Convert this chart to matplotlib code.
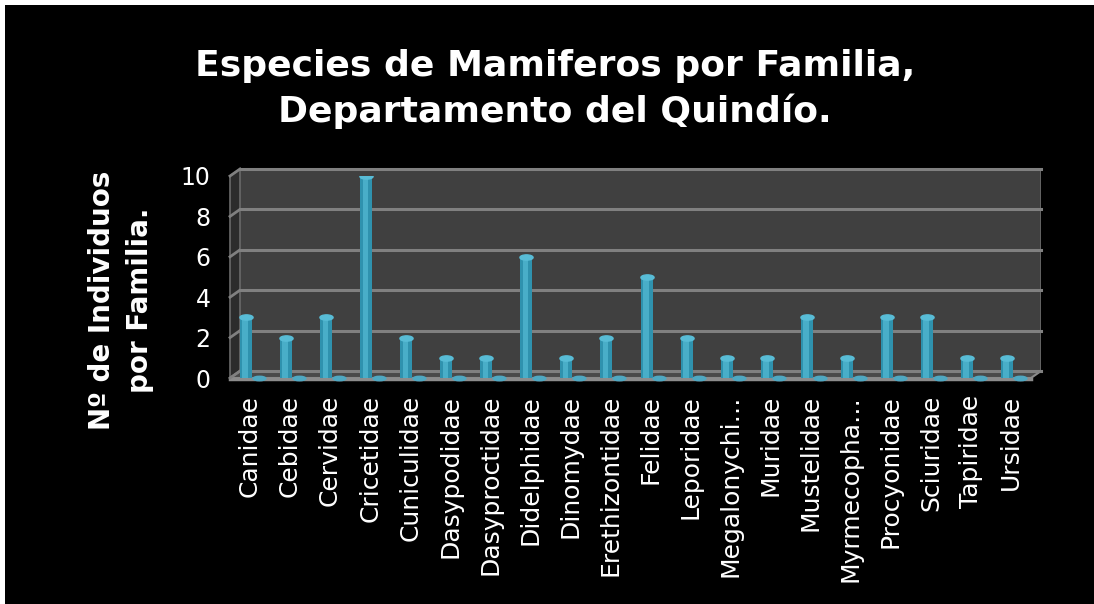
import numpy as np
import matplotlib
matplotlib.use("Agg")
from matplotlib import pyplot as plt
from matplotlib.patches import Rectangle, Polygon
from matplotlib.lines import Line2D
from matplotlib.path import Path
from matplotlib.transforms import Affine2D

familias = ["Canidae", "Cebidae", "Cervidae", "Cricetidae", "Cuniculidae",
            "Dasypodidae", "Dasyproctidae", "Didelphidae", "Dinomydae",
            "Erethizontidae", "Felidae", "Leporidae", "Megalonychi\u2026",
            "Muridae", "Mustelidae", "Myrmecopha\u2026", "Procyonidae",
            "Sciuridae", "Tapiridae", "Ursidae"]
individuos = [3, 2, 3, 10, 2, 1, 1, 6, 1, 2, 5, 2, 1, 1, 3, 1, 3, 3, 1, 1]
serie2 = [0, 0, 0, 0, 0, 0, 0, 0, 0, 0, 0, 0, 0, 0, 0, 0, 0, 0, 0, 0]
yticks = [0, 2, 4, 6, 8, 10]

W, H = 1094, 604


def fx(px):
    return px / W


def fy(py):
    return 1 - py / H


def main():
    fig = plt.figure(figsize=(W / 100, H / 100), dpi=100, facecolor="white")
    # fondo negro (borde blanco arriba / izquierda)
    fig.patches.append(Rectangle((fx(5), 0), 1, fy(5), transform=fig.transFigure,
                                 facecolor="black", edgecolor="none", zorder=-10))

    # pared de fondo (desplazada para efecto 3D)
    dx, dy = 10, 7
    left, right, bot, top = 230, 1031, 378, 176
    ax_back = fig.add_axes([fx(left + dx), fy(bot - dy), fx(right - left), fy(top) - fy(bot)])
    ax_back.set_xlim(-0.5, len(familias) - 0.5)
    ax_back.set_ylim(0, 10)
    ax_back.axis("off")
    ax_back.add_patch(Rectangle((0, 0), 1, 1, transform=ax_back.transAxes,
                                facecolor="#404040", edgecolor="#6a6a6a", lw=1.2, zorder=0))
    for v in yticks:
        ax_back.axhline(v, color="#808080", lw=2.2, clip_on=False, zorder=1)

    ax = fig.add_axes([fx(left), fy(bot), fx(right - left), fy(top) - fy(bot)])
    ax.set_facecolor("none")
    ax.set_xlim(-0.5, len(familias) - 0.5)
    ax.set_ylim(0, 10)

    # pared lateral y piso
    side = Polygon([(fx(left), fy(bot)), (fx(left + dx), fy(bot - dy)),
                    (fx(left + dx), fy(top - dy)), (fx(left), fy(top))],
                   closed=True, transform=fig.transFigure, facecolor="#2c2c2c",
                   edgecolor="#6a6a6a", lw=1.2, zorder=-5)
    fig.patches.append(side)
    floor = Polygon([(fx(left), fy(bot)), (fx(right), fy(bot)),
                     (fx(right + dx), fy(bot - dy)), (fx(left + dx), fy(bot - dy))],
                    closed=True, transform=fig.transFigure, facecolor="#4a4a4a",
                    edgecolor="#8a8a8a", lw=1.5, zorder=-5)
    fig.patches.append(floor)
    fig.lines.append(Line2D([fx(left), fx(right)], [fy(bot + 1), fy(bot + 1)],
                            transform=fig.transFigure, color="#8c8c8c", lw=2.5, zorder=-4))
    for v in yticks:
        y0 = bot - v * (bot - top) / 10
        fig.lines.append(Line2D([fx(left), fx(left + dx)], [fy(y0), fy(y0 - dy)],
                                transform=fig.transFigure, color="#808080", lw=2, zorder=-4))

    # cilindros
    x = np.arange(len(familias))
    ax.bar(x - 0.1, individuos, width=0.3, color="#2f92ae", zorder=3)
    ax.bar(x - 0.12, individuos, width=0.14, color="#55bad4", alpha=0.7, zorder=4)
    ax.scatter(x - 0.1, individuos, marker=Path.unit_circle().transformed(Affine2D().scale(1, 0.4)),
               s=90, color="#58bcd6", zorder=5)

    disco = Path.unit_circle().transformed(Affine2D().scale(1, 0.35))
    ax.scatter(x + 0.22, serie2, marker=disco, s=85, color="#4fa8c2", zorder=3, clip_on=False)

    ax.set_xticks(x)
    ax.set_xticklabels(familias, rotation=90, fontsize=18, color="white")
    ax.set_yticks(yticks)
    ax.set_yticklabels([str(v) for v in yticks], fontsize=17, color="white")
    ax.tick_params(length=0, pad=12)
    ax.tick_params(axis="y", pad=14)
    for s in ax.spines.values():
        s.set_visible(False)

    fig.text(fx(121), fy(300), "N\u00ba de Individuos\npor Familia.", rotation=90,
             ha="center", va="center", fontsize=20, fontweight="bold", color="white",
             linespacing=1.45)

    fig.text(0.507, fy(89), "Especies de Mamiferos por Familia,\nDepartamento del Quind\u00edo.",
             ha="center", va="center", fontsize=26, fontweight="bold", color="white",
             linespacing=1.38)

    fig.savefig("out.png", dpi=100, facecolor="white")


if __name__ == "__main__":
    main()
